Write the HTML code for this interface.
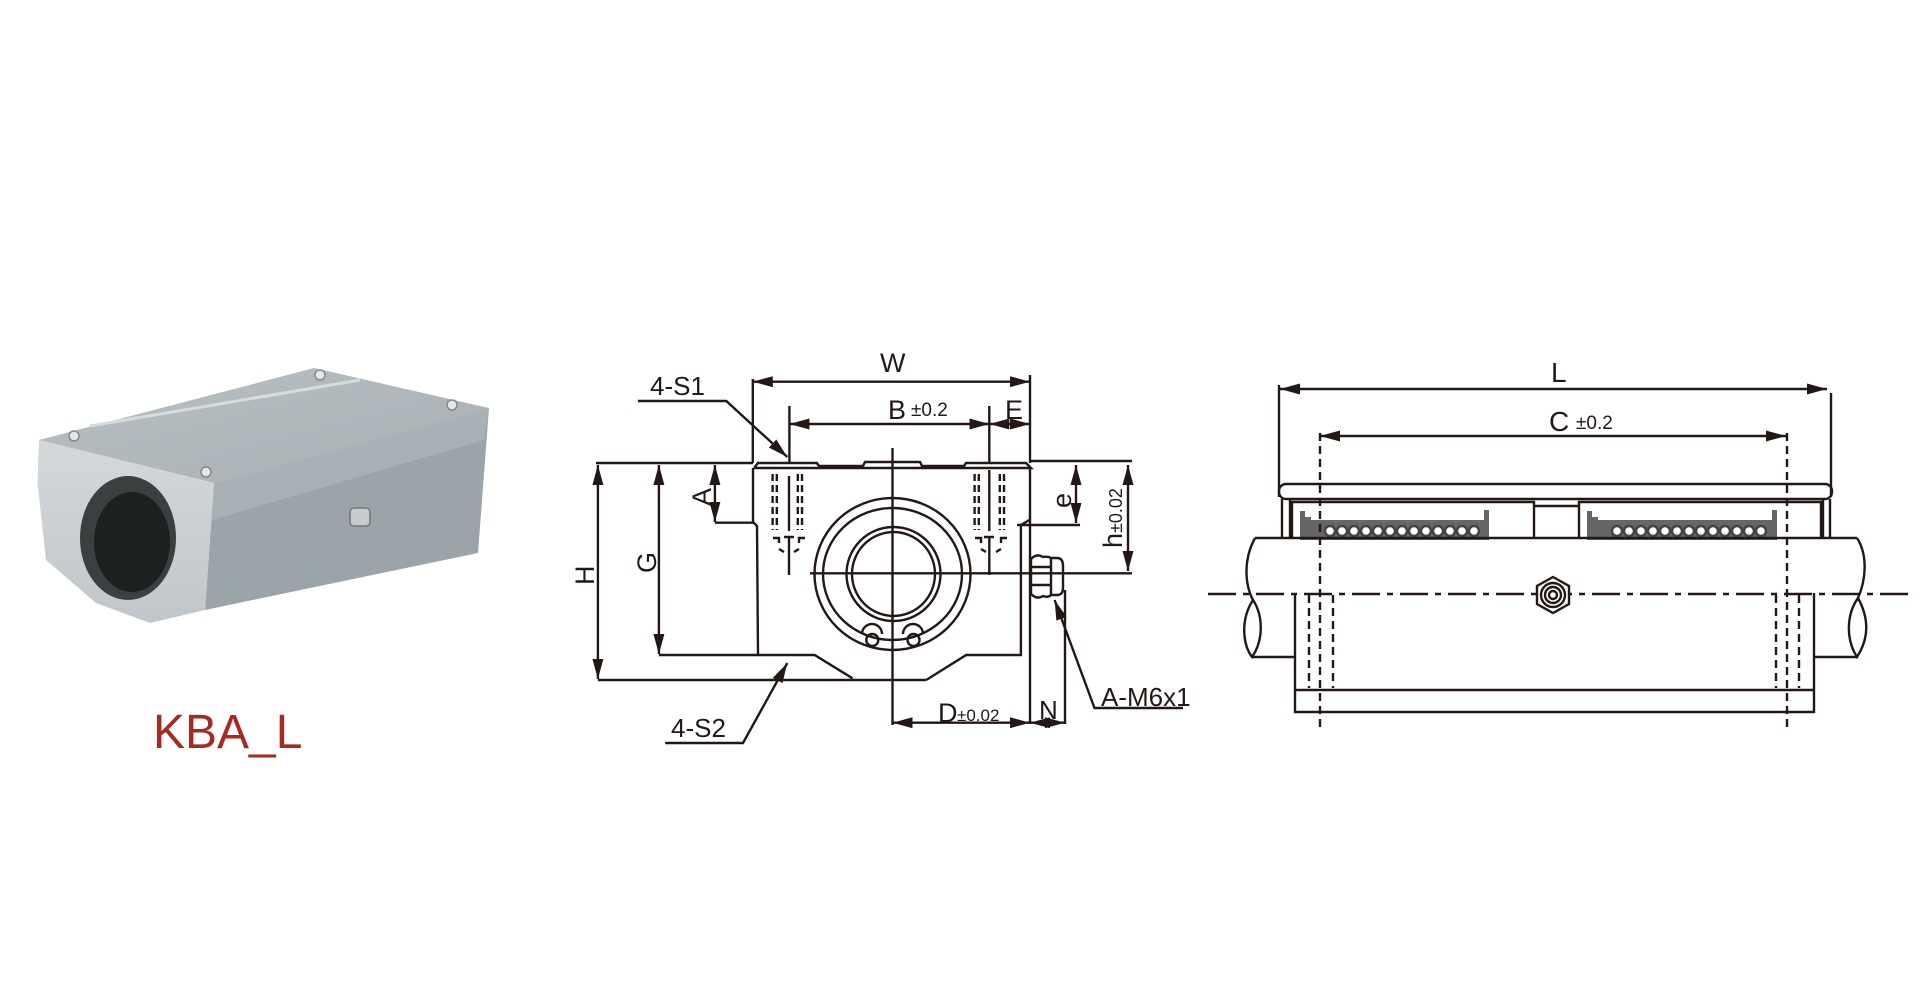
<!DOCTYPE html>
<html><head><meta charset="utf-8"><style>
html,body{margin:0;padding:0;background:#fff;width:1920px;height:1000px;overflow:hidden}
svg{display:block}
text{font-family:"Liberation Sans",Arial,sans-serif;fill:#231815}
</style></head><body>
<svg width="1920" height="1000" viewBox="0 0 1920 1000" xmlns="http://www.w3.org/2000/svg">
<defs>
<marker id="a" viewBox="0 0 20 11" refX="20" refY="5.5" markerWidth="20" markerHeight="11" markerUnits="userSpaceOnUse" orient="auto-start-reverse"><path d="M0,0 L20,5.5 L0,11 Z" fill="#231815"/></marker>
<linearGradient id="tg" x1="0" y1="0" x2="1" y2="1"><stop offset="0" stop-color="#b9c0c4"/><stop offset="1" stop-color="#a8b0b5"/></linearGradient>
<linearGradient id="fg" x1="0" y1="0" x2="0" y2="1"><stop offset="0" stop-color="#d3d8db"/><stop offset="1" stop-color="#c0c6ca"/></linearGradient>
</defs>

<!-- photo -->
<polygon points="214,483 489,408 478,553 205,610" fill="#9ba4a9"/>
<polygon points="214,483 489,408 484,440 212,520" fill="#a9b1b6"/>
<polygon points="39,440 314,368 489,408 214,483" fill="url(#tg)"/>
<line x1="90" y1="426" x2="360" y2="380" stroke="#d6dbde" stroke-width="3"/>
<polygon points="39,440 214,483 205,610 150,623 96,603 46,560 37.5,483" fill="url(#fg)"/>
<ellipse cx="128" cy="538" rx="48" ry="62" fill="#3a3f40"/>
<ellipse cx="132" cy="542" rx="38" ry="50" fill="#1c2020"/>
<circle cx="74" cy="436" r="5" fill="#e4e7e9" stroke="#888" stroke-width="1.5"/>
<circle cx="206" cy="472" r="5" fill="#e4e7e9" stroke="#888" stroke-width="1.5"/>
<circle cx="320" cy="375" r="5" fill="#e4e7e9" stroke="#888" stroke-width="1.5"/>
<circle cx="452" cy="405" r="5" fill="#e4e7e9" stroke="#888" stroke-width="1.5"/>
<rect x="350" y="508" width="20" height="18" rx="4" fill="#c7cccf" stroke="#777" stroke-width="1.5"/>
<text x="153" y="748" font-size="48" style="fill:#a52a22">KBA_L</text>

<!-- front view -->
<g stroke="#231815" stroke-width="2.4" fill="none">
<line x1="752.8" y1="381.7" x2="1030" y2="381.7" marker-start="url(#a)" marker-end="url(#a)"/>
<line x1="752.8" y1="379" x2="752.8" y2="463"/>
<line x1="1030" y1="375" x2="1030" y2="463"/>
<line x1="789.4" y1="424" x2="989.3" y2="424" marker-start="url(#a)" marker-end="url(#a)"/>
<line x1="1010" y1="424" x2="989.3" y2="424" marker-end="url(#a)"/>
<line x1="1010" y1="424" x2="1030" y2="424" marker-end="url(#a)"/>
<line x1="789.4" y1="406" x2="789.4" y2="463"/>
<line x1="989.3" y1="406" x2="989.3" y2="463"/>
<polyline points="637.9,401 726.3,401 787.3,457" marker-end="url(#a)"/>
<line x1="596" y1="463" x2="753" y2="463"/>
<line x1="1030" y1="461" x2="1132" y2="461"/>
<polyline points="754,468 758,463 816.8,463 819,466 863,466 865,462 920,462 922,466 964,466 966,463 1026,463 1031,468 754,468"/>
<polyline points="753,468 753,522 757,526 758,655"/>
<line x1="714.9" y1="522.7" x2="753" y2="522.7"/>
<line x1="714.9" y1="465" x2="714.9" y2="522" marker-start="url(#a)" marker-end="url(#a)"/>
<line x1="658.9" y1="465" x2="658.9" y2="654" marker-start="url(#a)" marker-end="url(#a)"/>
<line x1="597.9" y1="465" x2="597.9" y2="679" marker-start="url(#a)" marker-end="url(#a)"/>
<polyline points="658.9,655 814.6,655 852.5,678.3"/>
<line x1="597.9" y1="680" x2="926.2" y2="680"/>
<polyline points="926.2,680 966.2,655 1020.9,655 1020.9,525 1029.3,520"/>
<line x1="1030" y1="468" x2="1030" y2="724"/>
<line x1="1017" y1="525" x2="1080" y2="525"/>
<line x1="1076" y1="465" x2="1076" y2="523" marker-start="url(#a)" marker-end="url(#a)"/>
<line x1="1128" y1="465" x2="1128" y2="571" marker-start="url(#a)" marker-end="url(#a)"/>
<line x1="810" y1="573.3" x2="1132" y2="573.3"/>
<line x1="892.5" y1="448" x2="892.5" y2="725"/>
<ellipse cx="892.5" cy="574" rx="78" ry="76"/>
<ellipse cx="892.5" cy="574" rx="69.5" ry="66"/>
<ellipse cx="893.5" cy="574" rx="47" ry="47"/>
<ellipse cx="893.5" cy="574" rx="41.5" ry="42"/>
<circle cx="872.3" cy="640" r="6"/>
<circle cx="913.5" cy="640" r="6"/>
<path d="M862,634 a10,10 0 0 1 20,0 M903,634 a10,10 0 0 1 20,0"/>
<line x1="789" y1="476" x2="789" y2="531"/>
<line x1="789" y1="538" x2="789" y2="575"/>
<line x1="989.3" y1="538" x2="989.3" y2="575"/>
<line x1="989.3" y1="470" x2="989.3" y2="531"/>
<g stroke-dasharray="7,4">
<line x1="772.6" y1="474" x2="772.6" y2="530"/><line x1="776.8" y1="474" x2="776.8" y2="530"/>
<line x1="797.8" y1="474" x2="797.8" y2="530"/><line x1="802" y1="474" x2="802" y2="530"/>
<line x1="974.6" y1="474" x2="974.6" y2="530"/><line x1="978.8" y1="474" x2="978.8" y2="530"/>
<line x1="999.8" y1="474" x2="999.8" y2="530"/><line x1="1004" y1="474" x2="1004" y2="530"/>
</g>
<path d="M773,538 h6 v5 M805,538 h-6 v5 M784,537 h10 M779,549 l5,3 M799,549 l-5,3"/>
<path d="M975,538 h6 v5 M1007,538 h-6 v5 M984,537 h10 M981,549 l5,3 M1001,549 l-5,3"/>
<path d="M1031,559 q6,-6 12,-2 q5,-1 8,1 h6 q6,0 6,8 v22 q0,7 -6,7 h-6 q-3,3 -8,1 q-6,4 -12,-2 Z"/>
<line x1="1031" y1="567" x2="1051" y2="567"/><line x1="1031" y1="585" x2="1051" y2="585"/><line x1="1051" y1="558" x2="1051" y2="594"/>
<line x1="1065" y1="590" x2="1065" y2="724"/>
<line x1="892.5" y1="722.7" x2="1030" y2="722.7" marker-start="url(#a)" marker-end="url(#a)"/>
<line x1="1048" y1="722.7" x2="1030" y2="722.7" marker-end="url(#a)"/>
<line x1="1048" y1="722.7" x2="1065" y2="722.7" marker-end="url(#a)"/>
<polyline points="1183,708 1094.5,708 1054.6,600" marker-end="url(#a)"/>
<polyline points="665.2,743 743,743 787.3,663" marker-end="url(#a)"/>
</g>
<text x="880" y="372" font-size="27">W</text>
<text x="888" y="419" font-size="27">B</text><text x="911" y="416" font-size="19">±0.2</text>
<text x="1005" y="419" font-size="27">E</text>
<text x="650" y="395" font-size="26">4-S1</text>
<text x="671" y="737" font-size="26">4-S2</text>
<text x="1101" y="706" font-size="26">A-M6x1</text>
<text x="938" y="722" font-size="27">D</text><text x="957" y="721" font-size="17">±0.02</text>
<text x="1039" y="719" font-size="26">N</text>
<text font-size="27" transform="translate(711,506) rotate(-90)">A</text>
<text font-size="27" transform="translate(656,573) rotate(-90)">G</text>
<text font-size="27" transform="translate(594,585) rotate(-90)">H</text>
<text font-size="27" transform="translate(1071,508) rotate(-90)">e</text>
<text font-size="27" transform="translate(1122,548) rotate(-90)">h<tspan font-size="18">±0.02</tspan></text>

<!-- side view -->
<g stroke="#231815" stroke-width="2.4" fill="none">
<line x1="1280" y1="389" x2="1827" y2="389" marker-start="url(#a)" marker-end="url(#a)"/>
<line x1="1279" y1="385" x2="1279" y2="497"/>
<line x1="1831" y1="393" x2="1831" y2="497"/>
<line x1="1320" y1="436" x2="1786" y2="436" marker-start="url(#a)" marker-end="url(#a)"/>
<rect x="1279" y="484" width="553" height="15" rx="7"/>
<line x1="1282" y1="499" x2="1282" y2="539"/><line x1="1290" y1="499" x2="1290" y2="539"/>
<line x1="1823" y1="499" x2="1823" y2="539"/><line x1="1830" y1="499" x2="1830" y2="539"/>
<polyline points="1292,539 1292,502 1534,502 1534,539"/>
<polyline points="1579,539 1579,502 1821,502 1821,539"/>
<line x1="1534" y1="506" x2="1579" y2="506"/>
</g>
<g fill="#666">
<path d="M1300,511 h5 v6 h6 v23 h-11 z"/><path d="M1310,520 h178 v20 h-178 z"/>
<path d="M1484,510 h5 v30 h-5 z"/>
<path d="M1587,511 h5 v6 h6 v23 h-11 z"/><path d="M1597,520 h178 v20 h-178 z"/>
<path d="M1772,510 h5 v30 h-5 z"/>
</g>
<g fill="#fff" stroke="#444" stroke-width="2.5">
<circle cx="1330" cy="531" r="5"/><circle cx="1342" cy="531" r="5"/><circle cx="1354" cy="531" r="5"/><circle cx="1366" cy="531" r="5"/><circle cx="1378" cy="531" r="5"/><circle cx="1390" cy="531" r="5"/><circle cx="1402" cy="531" r="5"/><circle cx="1414" cy="531" r="5"/><circle cx="1426" cy="531" r="5"/><circle cx="1438" cy="531" r="5"/><circle cx="1450" cy="531" r="5"/><circle cx="1462" cy="531" r="5"/><circle cx="1474" cy="531" r="5"/>
<circle cx="1617" cy="531" r="5"/><circle cx="1629" cy="531" r="5"/><circle cx="1641" cy="531" r="5"/><circle cx="1653" cy="531" r="5"/><circle cx="1665" cy="531" r="5"/><circle cx="1677" cy="531" r="5"/><circle cx="1689" cy="531" r="5"/><circle cx="1701" cy="531" r="5"/><circle cx="1713" cy="531" r="5"/><circle cx="1725" cy="531" r="5"/><circle cx="1737" cy="531" r="5"/><circle cx="1749" cy="531" r="5"/><circle cx="1761" cy="531" r="5"/>
</g>
<g stroke="#231815" stroke-width="2.4" fill="none">
<line x1="1255" y1="538" x2="1857" y2="538"/>
<path d="M1255,538 C1243,560 1245,585 1253,600 C1240,620 1243,645 1252,657 C1264,640 1263,615 1253,600"/>
<path d="M1857,538 C1868,555 1866,580 1858,598 C1870,620 1868,640 1857,657 C1846,640 1846,615 1858,598"/>
<line x1="1252" y1="657" x2="1295" y2="657"/>
<line x1="1814" y1="657" x2="1857" y2="657"/>
<polyline points="1295,593 1295,712 1814,712 1814,593"/>
<line x1="1295" y1="690" x2="1814" y2="690"/>
<line x1="1208" y1="594" x2="1910" y2="594" stroke-dasharray="28,7,6,7"/>
<g stroke-dasharray="8,5">
<line x1="1320" y1="433" x2="1320" y2="730"/><line x1="1787" y1="433" x2="1787" y2="730"/>
<line x1="1309" y1="595" x2="1309" y2="688"/><line x1="1333" y1="595" x2="1333" y2="688"/>
<line x1="1776" y1="595" x2="1776" y2="688"/><line x1="1799" y1="595" x2="1799" y2="688"/>
</g>
<polygon points="1553,577 1569,586 1569,604 1553,613 1537,604 1537,586" fill="#fff"/>
<circle cx="1553" cy="595" r="12"/><circle cx="1553" cy="595" r="8"/><circle cx="1553" cy="595" r="4"/>
</g>
<text x="1551" y="382" font-size="28">L</text>
<text x="1549" y="431" font-size="28">C</text><text x="1576" y="429" font-size="19">±0.2</text>
</svg>
</body></html>
